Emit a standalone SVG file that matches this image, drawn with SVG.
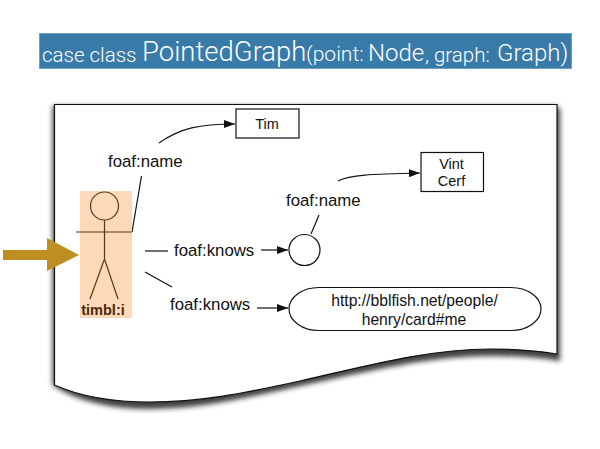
<svg xmlns="http://www.w3.org/2000/svg" width="600" height="449" viewBox="0 0 600 449">
<style>
text{font-family:"Liberation Sans",Arial,sans-serif;fill:#111}
.ban{font-family:Roboto,"Liberation Sans",sans-serif;font-weight:300;fill:#fff}
.lab{font-size:16.800px}
.small{font-size:14.500px;text-anchor:middle}
.uri{font-size:15.700px;text-anchor:middle}
.e{fill:none;stroke:#111;stroke-width:1.2}
.n{fill:#fff;stroke:#111;stroke-width:1.2}
.fig{fill:none;stroke:#5a3a14;stroke-width:1.2}
</style>
<defs>
<marker id="a" markerUnits="userSpaceOnUse" markerWidth="12" markerHeight="8" refX="11" refY="4" orient="auto"><path d="M0 0L11 4L0 8Z" fill="#111"/></marker>
<filter id="s" x="-5%" y="-5%" width="110%" height="110%"><feGaussianBlur stdDeviation="2.4"/></filter>
<filter id="b" x="-5%" y="-20%" width="110%" height="140%"><feGaussianBlur stdDeviation="0.7"/></filter>
</defs>
<g id="banner">
<rect x="39" y="33" width="533" height="36" fill="#a9c6da" filter="url(#b)"/>
<rect x="39.500" y="33.500" width="532" height="35" fill="#387aa8"/>
<g class="ban">
<text class="ban" x="42" y="62" font-size="20.500">case class</text>
<text class="ban" x="142" y="61" font-size="27.500">PointedGraph</text>
<text class="ban" x="306" y="61" font-size="21">(point:</text>
<text class="ban" x="368" y="61" font-size="24">Node</text>
<text class="ban" x="425" y="62" font-size="20.500">, graph:</text>
<text class="ban" x="497" y="61" font-size="24">Graph)</text>
</g>
</g>
<g id="paper">
<path d="M52.500 106V385C70 397 100 409 150 409C200 409 240 399 300 386C370 371 430 356 490 356C520 356 540 358 560 361V108H557V106Z" fill="#222" fill-opacity="0.85" filter="url(#s)"/>
<path d="M54.500 104.500V385C70 392 100 402 150 402C200 402 240 394 300 381C370 365 430 349 490 349C520 349 540 351 557 354V104.500Z" fill="#fff" stroke="#111" stroke-width="1.200"/>
</g>
<g id="connectors">
<path class="e" d="M159 143C180 128 200 124 235 124" marker-end="url(#a)"/>
<path class="e" d="M141.500 176L132 232"/>
<path class="e" d="M338 181C350 175 370 174 420 173" marker-end="url(#a)"/>
<path class="e" d="M319 215L311 234"/>
<path class="e" d="M145 251H168"/>
<path class="e" d="M261 250H288" marker-end="url(#a)"/>
<path class="e" d="M145 272L172 287"/>
<path class="e" d="M257 308H288" marker-end="url(#a)"/>
</g>
<g id="person">
<rect x="80" y="191" width="52" height="127" fill="#fcd9b8"/>
<circle class="fig" cx="104.500" cy="206" r="14"/>
<path class="fig" d="M104.500 220V259M76 232H132M104.500 259L90 299M104.500 259L118 299"/>
<text x="103" y="315" text-anchor="middle" font-size="14.500" font-weight="bold" style="fill:#4a2a0c">timbl:i</text>
</g>
<g id="arrow"><path d="M3 250H47V238L79 255L47 271V260H3Z" fill="#bd8f22"/></g>
<g id="label-name1"><text class="lab" x="108" y="167">foaf:name</text></g>
<g id="label-name2"><text class="lab" x="286" y="206">foaf:name</text></g>
<g id="label-knows1"><text class="lab" x="174" y="256">foaf:knows</text></g>
<g id="label-knows2"><text class="lab" x="170" y="310">foaf:knows</text></g>
<g id="tim"><rect class="n" x="236" y="109" width="63" height="29"/><text class="small" x="267" y="129">Tim</text></g>
<g id="vint"><rect class="n" x="421" y="152.500" width="62.500" height="39"/><text class="small" x="451.500" y="169">Vint</text><text class="small" x="451.500" y="186">Cerf</text></g>
<g id="blank"><circle class="n" cx="304.500" cy="250" r="15.500"/></g>
<g id="henry"><rect class="n" x="289" y="287.500" width="252" height="43" rx="30" ry="21.500"/><text class="uri" x="414.500" y="306">http://bblfish.net/people/</text><text class="uri" x="414" y="325">henry/card#me</text></g>
</svg>
